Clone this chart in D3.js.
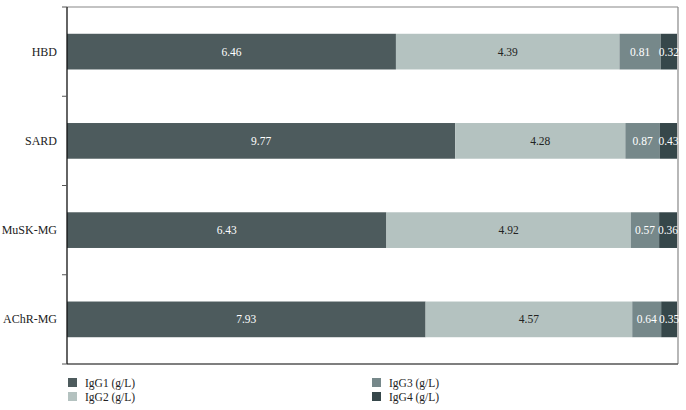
<!DOCTYPE html>
<html lang="en">
  <head>
    <meta charset="UTF-8">
    <title>IgG subclasses</title>
    <script src="https://d3js.org/d3.v7.min.js"></script>
    <style>
      body { margin: 0; background: #fff; }
    </style>
  </head>
  <body>
    <svg id="chart" width="686" height="410" font-family="'Liberation Serif', 'DejaVu Serif', serif"></svg>
  <script>
    // data
    var groups = ["HBD", "SARD", "MuSK-MG", "AChR-MG"];
    var igg1 = [6.46, 9.77, 6.43, 7.93];
    var igg2 = [4.39, 4.28, 4.92, 4.57];
    var igg3 = [0.81, 0.87, 0.57, 0.64];
    var igg4 = [0.32, 0.43, 0.36, 0.35];
    var seriesNames = ["IgG1 (g/L)", "IgG2 (g/L)", "IgG3 (g/L)", "IgG4 (g/L)"];
    var colors = ["#4d5b5d", "#b4c2c0", "#76888a", "#36474a"];
    var labelColors = ["#ffffff", "#222222", "#ffffff", "#ffffff"];

    var svg = d3.select("#chart");
    var mLeft = 67, mRight = 677, mTop = 7, mBottom = 364;

    var x = d3.scaleLinear().domain([0, 1]).range([mLeft, mRight]);
    var y = d3.scaleBand().domain(groups).range([mTop, mBottom]).paddingInner(0.6).paddingOuter(0.3);
    var yb = d3.scaleBand().domain(groups).range([mTop, mBottom]);

    // build rows of proportions
    var vals = [igg1, igg2, igg3, igg4];
    var rows = groups.map(function(g, i) {
      var r = { group: g };
      var tot = igg1[i] + igg2[i] + igg3[i] + igg4[i];
      seriesNames.forEach(function(s, k) { r[s] = vals[k][i] / tot; r["raw" + k] = vals[k][i]; });
      return r;
    });
    var stack = d3.stack().keys(seriesNames)(rows);

    // frame
    svg.append("line").attr("x1", mLeft).attr("x2", mRight + 1).attr("y1", mTop).attr("y2", mTop)
      .attr("stroke", "#888").attr("stroke-width", 1.2);
    svg.append("line").attr("x1", mRight + 1).attr("x2", mRight + 1).attr("y1", mTop).attr("y2", mBottom)
      .attr("stroke", "#888").attr("stroke-width", 1.2);
    svg.append("line").attr("x1", mLeft).attr("x2", mRight + 1).attr("y1", mBottom).attr("y2", mBottom)
      .attr("stroke", "#555").attr("stroke-width", 1.4);

    // bars
    stack.forEach(function(layer, k) {
      var g = svg.append("g");
      g.selectAll("rect").data(layer).enter().append("rect")
        .attr("x", function(d) { return x(d[0]); })
        .attr("y", function(d) { return y(d.data.group); })
        .attr("width", function(d) { return x(d[1]) - x(d[0]); })
        .attr("height", y.bandwidth())
        .attr("fill", colors[k]);
      g.selectAll("text").data(layer).enter().append("text")
        .attr("x", function(d) { return (x(d[0]) + x(d[1])) / 2; })
        .attr("y", function(d) { return y(d.data.group) + y.bandwidth() / 2 + 4; })
        .attr("text-anchor", "middle")
        .attr("font-size", "11.5px")
        .attr("fill", labelColors[k])
        .text(function(d) { return d.data["raw" + k].toFixed(2); });
    });

    // y axis
    var yAxis = svg.append("g").attr("transform", "translate(" + mLeft + ",0)");
    yAxis.append("line").attr("x1", 0).attr("x2", 0).attr("y1", mTop).attr("y2", mBottom)
      .attr("stroke", "#111").attr("stroke-width", 1.3);
    var ticks = [];
    groups.forEach(function(g) { ticks.push(yb(g)); });
    ticks.push(mBottom);
    yAxis.selectAll(".tick").data(ticks).enter().append("line")
      .attr("x1", -5).attr("x2", 0)
      .attr("y1", function(d) { return d; }).attr("y2", function(d) { return d; })
      .attr("stroke", "#555");
    yAxis.selectAll(".lab").data(groups).enter().append("text")
      .attr("x", -10)
      .attr("y", function(d) { return y(d) + y.bandwidth() / 2 + 4; })
      .attr("text-anchor", "end")
      .attr("font-size", "12px")
      .attr("fill", "#222")
      .text(function(d) { return d; });

    // legend
    var legPos = [[68, 378], [68, 392], [372, 378], [372, 392]];
    seriesNames.forEach(function(s, k) {
      var lg = svg.append("g").attr("transform", "translate(" + legPos[k][0] + "," + legPos[k][1] + ")");
      lg.append("rect").attr("width", 9).attr("height", 9).attr("fill", colors[k]);
      lg.append("text").attr("x", 17).attr("y", 8.5).attr("font-size", "11.5px").attr("fill", "#222").text(s);
    });
  </script>
  </body>
</html>
